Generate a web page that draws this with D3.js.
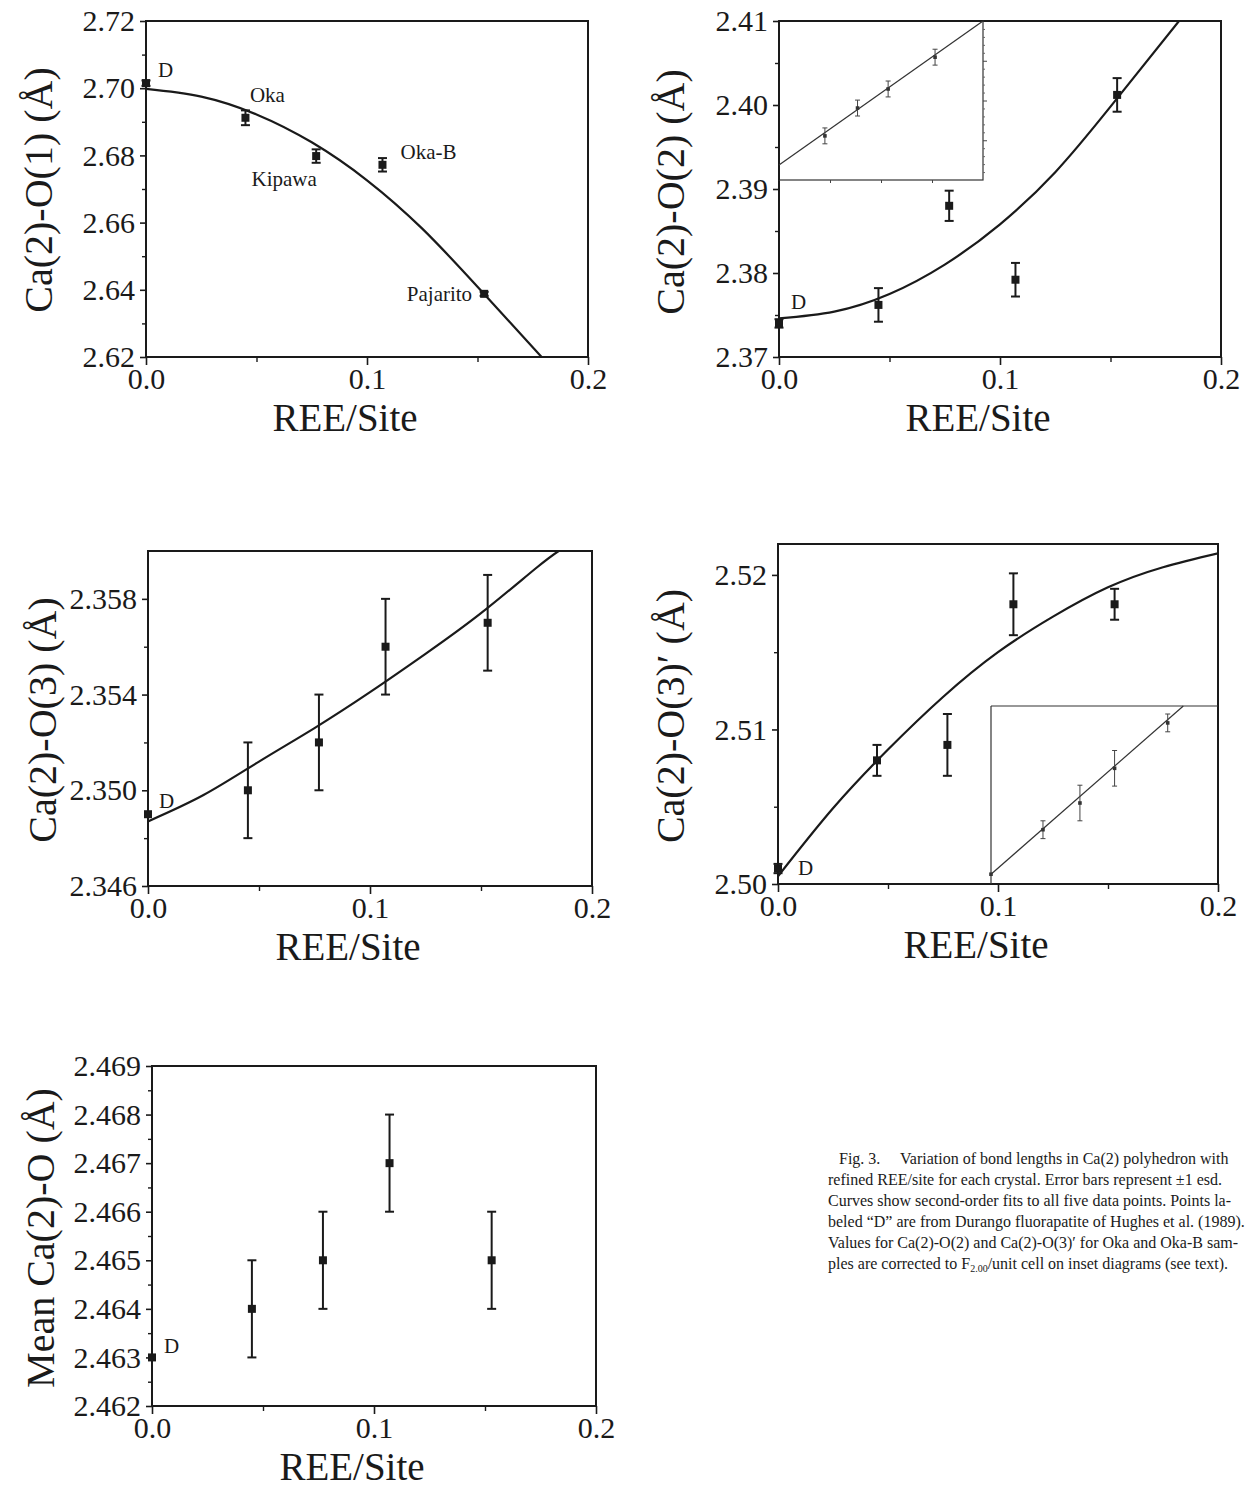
<!DOCTYPE html>
<html><head><meta charset="utf-8">
<script src="https://cdn.jsdelivr.net/npm/d3@7"></script>
<style>
body{margin:0;background:#fff}
svg{display:block}
text{font-family:"Liberation Serif","Times New Roman",serif;fill:#1a1a1a}
</style>
</head><body>
<svg id="chart" width="1245" height="1495"></svg>
<script>
// ---------------- DATA ----------------
const reeSite = [0, 0.045, 0.077, 0.107, 0.153];
const xMajorTicks = [0, 0.1, 0.2];
const xTickLabels = ["0.0", "0.1", "0.2"];
const xMinorTicks = [0.05, 0.15];
const xTitle = "REE/Site";

// Ca(2)-O(1)
const o1Values = [2.7015, 2.6912, 2.6798, 2.6772, 2.6388];
const o1Errors = [0.0008, 0.0022, 0.0020, 0.0020, 0.0006];
const o1PointLabels = ["D", "Oka", "Kipawa", "Oka-B", "Pajarito"];
const o1FitX = [0, 0.025, 0.05, 0.075, 0.1, 0.125, 0.15, 0.179];
const o1FitY = [2.6998, 2.6975, 2.6922, 2.6839, 2.6726, 2.6582, 2.6409, 2.6200];
const o1YTicks = [2.62, 2.64, 2.66, 2.68, 2.70, 2.72];
const o1YMinor = [2.63, 2.65, 2.67, 2.69, 2.71];

// Ca(2)-O(2)
const o2Values = [2.3740, 2.3762, 2.3880, 2.3792, 2.4012];
const o2Errors = [0.0005, 0.0020, 0.0018, 0.0020, 0.0020];
const o2FitX = [0, 0.025, 0.05, 0.075, 0.1, 0.125, 0.15, 0.181];
const o2FitY = [2.3746, 2.3754, 2.3775, 2.3810, 2.3858, 2.3920, 2.3998, 2.4100];
const o2YTicks = [2.37, 2.38, 2.39, 2.40, 2.41];
const o2YMinor = [2.375, 2.385, 2.395, 2.405];
// inset: corrected to F2.00/unit cell
const o2InsetX = [0.045, 0.077, 0.107, 0.153];
const o2InsetY = [2.3811, 2.3881, 2.3929, 2.4009];
const o2InsetErr = [0.002, 0.002, 0.002, 0.002];
const o2InsetFitX = [0, 0.2];
const o2InsetFitY = [2.3738, 2.4100];
const o2InsetYTicks = [2.38, 2.39, 2.40];
const o2InsetYMinor = [2.372, 2.374, 2.376, 2.378, 2.382, 2.384, 2.386, 2.388, 2.392, 2.394, 2.396, 2.398, 2.402, 2.404, 2.406, 2.408];
const o2InsetXTicks = [0.05, 0.1, 0.15];

// Ca(2)-O(3)
const o3Values = [2.3490, 2.3500, 2.3520, 2.3560, 2.3570];
const o3Errors = [0, 0.002, 0.002, 0.002, 0.002];
const o3FitX = [0, 0.025, 0.05, 0.075, 0.1, 0.125, 0.15, 0.175, 0.185];
const o3FitY = [2.3487, 2.3498, 2.3512, 2.3526, 2.3541, 2.3557, 2.3574, 2.3593, 2.3600];
const o3YTicks = [2.346, 2.350, 2.354, 2.358];
const o3YMinor = [2.348, 2.352, 2.356];

// Ca(2)-O(3)'
const o3pValues = [2.5010, 2.5080, 2.5090, 2.5181, 2.5181];
const o3pErrors = [0.0003, 0.001, 0.002, 0.002, 0.001];
const o3pFitX = [0, 0.025, 0.05, 0.075, 0.1, 0.125, 0.15, 0.175, 0.2];
const o3pFitY = [2.5005, 2.5049, 2.5087, 2.5121, 2.5150, 2.5173, 2.5192, 2.5205, 2.5214];
const o3pYTicks = [2.50, 2.51, 2.52];
const o3pYMinor = [2.505, 2.515];
const o3pInsetX = [0, 0.045, 0.077, 0.107, 0.153];
const o3pInsetY = [2.5011, 2.5061, 2.5091, 2.5130, 2.5181];
const o3pInsetErr = [0, 0.001, 0.002, 0.002, 0.001];
const o3pInsetFitX = [0, 0.1665];
const o3pInsetFitY = [2.5011, 2.5200];

// Mean Ca(2)-O
const meanValues = [2.4630, 2.4640, 2.4650, 2.4670, 2.4650];
const meanErrors = [0, 0.001, 0.001, 0.001, 0.001];
const meanYTicks = [2.462, 2.463, 2.464, 2.465, 2.466, 2.467, 2.468, 2.469];
const meanYMinor = [2.4625, 2.4635, 2.4645, 2.4655, 2.4665, 2.4675, 2.4685];

// caption (segments: [text, isSubscript])
const captionLines = [
  [["Fig. 3.\u2003 Variation of bond lengths in Ca(2) polyhedron with", false]],
  [["refined REE/site for each crystal. Error bars represent \u00b11 esd.", false]],
  [["Curves show second-order fits to all five data points. Points la-", false]],
  [["beled \u201cD\u201d are from Durango fluorapatite of Hughes et al. (1989).", false]],
  [["Values for Ca(2)-O(2) and Ca(2)-O(3)\u2032 for Oka and Oka-B sam-", false]],
  [["ples are corrected to F", false], ["2.00", true], ["/unit cell on inset diagrams (see text).", false]]
];

// ---------------- DRAWING ----------------
const svg = d3.select("#chart");
const INK = "#1a1a1a";
let clipId = 0;

function panel(cfg) {
  const x = d3.scaleLinear().domain([0, 0.2]).range([cfg.x0, cfg.x1]);
  const y = d3.scaleLinear().domain(cfg.yDomain).range([cfg.yBot, cfg.yTop]);
  const g = svg.append("g");
  const id = "clip" + (clipId++);
  svg.append("clipPath").attr("id", id).append("rect")
    .attr("x", cfg.x0).attr("y", cfg.yTop).attr("width", cfg.x1 - cfg.x0).attr("height", cfg.yBot - cfg.yTop);

  g.append("rect").attr("x", cfg.x0).attr("y", cfg.yTop)
    .attr("width", cfg.x1 - cfg.x0).attr("height", cfg.yBot - cfg.yTop)
    .attr("fill", "none").attr("stroke", INK).attr("stroke-width", 2);

  const xAx = d3.axisBottom(x).tickValues(xMajorTicks).tickSize(8).tickPadding(3)
    .tickFormat((d, i) => xTickLabels[i]);
  const gx = g.append("g").attr("transform", `translate(0,${cfg.yBot})`).call(xAx);
  gx.select(".domain").remove();
  gx.selectAll("line").attr("stroke", INK).attr("stroke-width", 1.6);
  gx.selectAll("text").attr("font-size", 30).attr("fill", INK)
    .attr("font-family", '"Liberation Serif",serif');
  const gxm = g.append("g").attr("transform", `translate(0,${cfg.yBot})`)
    .call(d3.axisBottom(x).tickValues(xMinorTicks).tickSize(5).tickFormat(""));
  gxm.select(".domain").remove();
  gxm.selectAll("line").attr("stroke", INK).attr("stroke-width", 1.4);

  const yAx = d3.axisLeft(y).tickValues(cfg.yTicks).tickSize(6).tickPadding(5)
    .tickFormat(d3.format(cfg.yFormat));
  const gy = g.append("g").attr("transform", `translate(${cfg.x0},0)`).call(yAx);
  gy.select(".domain").remove();
  gy.selectAll("line").attr("stroke", INK).attr("stroke-width", 1.6);
  gy.selectAll("text").attr("font-size", 30).attr("fill", INK)
    .attr("font-family", '"Liberation Serif",serif');
  const gym = g.append("g").attr("transform", `translate(${cfg.x0},0)`)
    .call(d3.axisLeft(y).tickValues(cfg.yMinor).tickSize(4).tickFormat(""));
  gym.select(".domain").remove();
  gym.selectAll("line").attr("stroke", INK).attr("stroke-width", 1.4);

  g.append("text").attr("x", (cfg.x0 + cfg.x1) / 2 - 22).attr("y", cfg.yBot + 74)
    .attr("text-anchor", "middle").attr("font-size", 39).text(xTitle);
  g.append("text").attr("transform", `translate(${cfg.titleX},${cfg.titleY}) rotate(-90)`)
    .attr("text-anchor", "middle").attr("font-size", 40).text(cfg.yTitle);

  if (cfg.fitX) {
    const pts = cfg.fitX.map((v, i) => [v, cfg.fitY[i]]);
    g.append("path").datum(pts)
      .attr("clip-path", `url(#${id})`)
      .attr("d", d3.line().x(d => x(d[0])).y(d => y(d[1])).curve(d3.curveNatural))
      .attr("fill", "none").attr("stroke", INK).attr("stroke-width", 2.2);
  }

  const pts = reeSite.map((v, i) => ({x: v, y: cfg.values[i], e: cfg.errors[i]}));
  const eb = g.append("g");
  pts.filter(d => d.e > 0).forEach(d => {
    eb.append("line").attr("x1", x(d.x)).attr("x2", x(d.x))
      .attr("y1", y(d.y - d.e)).attr("y2", y(d.y + d.e)).attr("stroke", INK).attr("stroke-width", 2);
    [d.y - d.e, d.y + d.e].forEach(v => eb.append("line")
      .attr("x1", x(d.x) - 4.5).attr("x2", x(d.x) + 4.5)
      .attr("y1", y(v)).attr("y2", y(v)).attr("stroke", INK).attr("stroke-width", 2));
  });
  g.append("g").selectAll("rect").data(pts).join("rect")
    .attr("x", d => x(d.x) - 4).attr("y", d => y(d.y) - 4)
    .attr("width", 8).attr("height", 8).attr("fill", INK);

  return {x, y, g};
}

// panel 1
const p1 = panel({x0: 146, x1: 588, yTop: 21, yBot: 357, yDomain: [2.62, 2.72],
  yTicks: o1YTicks, yMinor: o1YMinor, yFormat: ".2f",
  values: o1Values, errors: o1Errors, fitX: o1FitX, fitY: o1FitY,
  yTitle: "Ca(2)-O(1) (\u00c5)", titleX: 52, titleY: 190});
const lblOff = [[12, -6, "start"], [22, -16, "middle"], [-32, 30, "middle"], [46, -6, "middle"], [-12, 7, "end"]];
o1PointLabels.forEach((t, i) => {
  p1.g.append("text").attr("x", p1.x(reeSite[i]) + lblOff[i][0]).attr("y", p1.y(o1Values[i]) + lblOff[i][1])
    .attr("text-anchor", lblOff[i][2]).attr("font-size", 21).text(t);
});

// panel 2
const p2 = panel({x0: 779, x1: 1221, yTop: 21, yBot: 357, yDomain: [2.37, 2.41],
  yTicks: o2YTicks, yMinor: o2YMinor, yFormat: ".2f",
  values: o2Values, errors: o2Errors, fitX: o2FitX, fitY: o2FitY,
  yTitle: "Ca(2)-O(2) (\u00c5)", titleX: 684, titleY: 192});
p2.g.append("text").attr("x", p2.x(0) + 12).attr("y", p2.y(o2Values[0]) - 14).attr("font-size", 21).text("D");
{
  const ix = d3.scaleLinear().domain([0, 0.2]).range([779, 983]);
  const iy = d3.scaleLinear().domain([2.37, 2.41]).range([180, 21]);
  const g = p2.g.append("g");
  g.append("rect").attr("x", 779).attr("y", 21).attr("width", 204).attr("height", 159)
    .attr("fill", "#fff").attr("stroke", "#333").attr("stroke-width", 1.2);
  g.append("line").attr("x1", 779).attr("x2", 779).attr("y1", 21).attr("y2", 180).attr("stroke", INK).attr("stroke-width", 2);
  g.append("line").attr("x1", 779).attr("x2", 983).attr("y1", 21).attr("y2", 21).attr("stroke", INK).attr("stroke-width", 2);
  const bx = g.append("g").attr("transform", "translate(0,180)")
    .call(d3.axisBottom(ix).tickValues(o2InsetXTicks).tickSize(3).tickFormat(""));
  bx.select(".domain").remove(); bx.selectAll("line").attr("stroke", "#444");
  const ry = g.append("g").attr("transform", "translate(983,0)")
    .call(d3.axisRight(iy).tickValues(o2InsetYTicks).tickSize(4).tickFormat(""));
  ry.select(".domain").remove(); ry.selectAll("line").attr("stroke", "#444");
  const rym = g.append("g").attr("transform", "translate(983,0)")
    .call(d3.axisRight(iy).tickValues(o2InsetYMinor).tickSize(2).tickFormat(""));
  rym.select(".domain").remove(); rym.selectAll("line").attr("stroke", "#666");
  g.append("path").datum(o2InsetFitX.map((v, i) => [v, o2InsetFitY[i]]))
    .attr("d", d3.line().x(d => ix(d[0])).y(d => iy(d[1])))
    .attr("stroke", "#333").attr("stroke-width", 1.2).attr("fill", "none");
  o2InsetX.forEach((v, i) => {
    const cx = ix(v);
    g.append("line").attr("x1", cx).attr("x2", cx).attr("y1", iy(o2InsetY[i] - o2InsetErr[i])).attr("y2", iy(o2InsetY[i] + o2InsetErr[i])).attr("stroke", "#444");
    [o2InsetY[i] - o2InsetErr[i], o2InsetY[i] + o2InsetErr[i]].forEach(w =>
      g.append("line").attr("x1", cx - 2.5).attr("x2", cx + 2.5).attr("y1", iy(w)).attr("y2", iy(w)).attr("stroke", "#444"));
    g.append("rect").attr("x", cx - 1.8).attr("y", iy(o2InsetY[i]) - 1.8).attr("width", 3.6).attr("height", 3.6).attr("fill", "#333");
  });
}

// panel 3
const p3 = panel({x0: 148, x1: 592, yTop: 551, yBot: 886, yDomain: [2.346, 2.360],
  yTicks: o3YTicks, yMinor: o3YMinor, yFormat: ".3f",
  values: o3Values, errors: o3Errors, fitX: o3FitX, fitY: o3FitY,
  yTitle: "Ca(2)-O(3) (\u00c5)", titleX: 56, titleY: 720});
p3.g.append("text").attr("x", p3.x(0) + 11).attr("y", p3.y(o3Values[0]) - 6).attr("font-size", 21).text("D");

// panel 4
const p4 = panel({x0: 778, x1: 1218, yTop: 544, yBot: 884, yDomain: [2.50, 2.522],
  yTicks: o3pYTicks, yMinor: o3pYMinor, yFormat: ".2f",
  values: o3pValues, errors: o3pErrors, fitX: o3pFitX, fitY: o3pFitY,
  yTitle: "Ca(2)-O(3)\u2032 (\u00c5)", titleX: 684, titleY: 716});
p4.g.append("text").attr("x", p4.x(0) + 20).attr("y", p4.y(o3pValues[0]) + 6).attr("font-size", 21).text("D");
{
  const ix = d3.scaleLinear().domain([0, 0.2]).range([991, 1222]);
  const iy = d3.scaleLinear().domain([2.50, 2.52]).range([884, 706]);
  const g = p4.g.append("g");
  g.append("line").attr("x1", 991).attr("x2", 991).attr("y1", 706).attr("y2", 884).attr("stroke", "#333").attr("stroke-width", 1.2);
  g.append("line").attr("x1", 991).attr("x2", 1218).attr("y1", 706).attr("y2", 706).attr("stroke", "#333").attr("stroke-width", 1.2);
  g.append("path").datum(o3pInsetFitX.map((v, i) => [v, o3pInsetFitY[i]]))
    .attr("d", d3.line().x(d => ix(d[0])).y(d => iy(d[1])))
    .attr("stroke", "#333").attr("stroke-width", 1.2).attr("fill", "none");
  o3pInsetX.forEach((v, i) => {
    const cx = ix(v);
    if (o3pInsetErr[i] > 0) {
      g.append("line").attr("x1", cx).attr("x2", cx).attr("y1", iy(o3pInsetY[i] - o3pInsetErr[i])).attr("y2", iy(o3pInsetY[i] + o3pInsetErr[i])).attr("stroke", "#444");
      [o3pInsetY[i] - o3pInsetErr[i], o3pInsetY[i] + o3pInsetErr[i]].forEach(w =>
        g.append("line").attr("x1", cx - 2.5).attr("x2", cx + 2.5).attr("y1", iy(w)).attr("y2", iy(w)).attr("stroke", "#444"));
    }
    g.append("rect").attr("x", cx - 1.8).attr("y", iy(o3pInsetY[i]) - 1.8).attr("width", 3.6).attr("height", 3.6).attr("fill", "#333");
  });
}

// panel 5
const p5 = panel({x0: 152, x1: 596, yTop: 1066, yBot: 1406, yDomain: [2.462, 2.469],
  yTicks: meanYTicks, yMinor: meanYMinor, yFormat: ".3f",
  values: meanValues, errors: meanErrors,
  yTitle: "Mean Ca(2)-O (\u00c5)", titleX: 54, titleY: 1238});
p5.g.append("text").attr("x", p5.x(0) + 12).attr("y", p5.y(meanValues[0]) - 4).attr("font-size", 21).text("D");

// caption
const cap = svg.append("g");
captionLines.forEach((segs, i) => {
  const t = cap.append("text").attr("x", i === 0 ? 839 : 828).attr("y", 1164 + i * 21)
    .attr("font-size", 16);
  segs.forEach(([s, sub]) => {
    const ts = t.append("tspan").text(s);
    if (sub) ts.attr("font-size", 10).attr("dy", 3);
    else if (t.selectAll("tspan").size() > 1) ts.attr("dy", -3);
  });
});
</script>
</body></html>
